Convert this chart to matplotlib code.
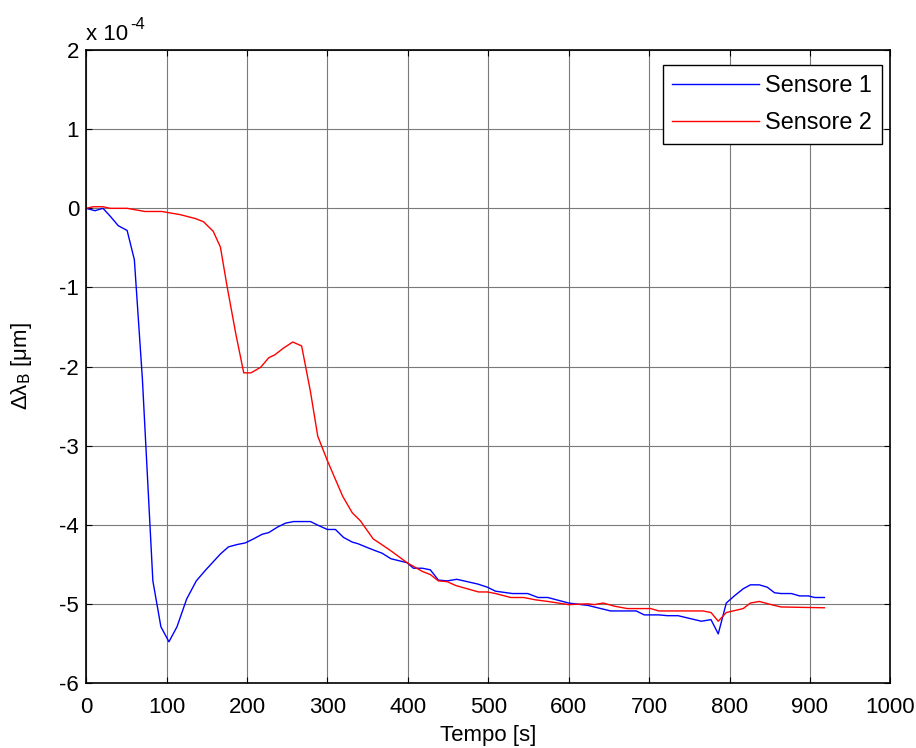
import matplotlib
matplotlib.use('Agg')
import matplotlib.pyplot as plt

# time [s] and wavelength shift (units of 1e-4 um)
t1 = [0, 11, 21, 30, 40, 51, 60, 70, 83, 93, 103, 113, 125, 137, 148, 167, 177, 188, 198,
      208, 219, 227, 238, 248, 258, 279, 289, 300, 310, 320, 331, 338, 350, 360, 368, 379,
      399, 407, 418, 428, 438, 449, 461, 474, 487, 499, 509, 530, 549, 562, 574, 600, 624,
      652, 684, 694, 712, 723, 736, 765, 777, 786, 796, 806, 817, 826, 837, 847, 856, 864,
      877, 887, 898, 906, 918]
s1 = [0, -0.03, 0, -0.10, -0.22, -0.28, -0.65, -2.16, -4.71, -5.29, -5.48, -5.29, -4.94,
      -4.71, -4.58, -4.37, -4.28, -4.25, -4.23, -4.18, -4.12, -4.10, -4.03, -3.98, -3.96,
      -3.96, -4.01, -4.06, -4.06, -4.16, -4.22, -4.24, -4.29, -4.33, -4.36, -4.43, -4.48,
      -4.55, -4.55, -4.57, -4.70, -4.71, -4.69, -4.72, -4.75, -4.79, -4.84, -4.87, -4.87,
      -4.92, -4.92, -4.99, -5.02, -5.09, -5.09, -5.14, -5.14, -5.15, -5.15, -5.22, -5.20,
      -5.38, -4.99, -4.90, -4.81, -4.76, -4.76, -4.79, -4.86, -4.87, -4.87, -4.90, -4.90,
      -4.92, -4.92]

t2 = [0, 9, 21, 30, 51, 73, 94, 117, 136, 146, 158, 167, 175, 186, 196, 205, 217, 227,
      235, 245, 257, 268, 279, 288, 300, 319, 331, 341, 357, 366, 379, 399, 418, 428, 438,
      449, 460, 474, 488, 499, 509, 528, 544, 559, 574, 600, 624, 632, 643, 657, 673, 702,
      712, 767, 777, 786, 796, 817, 826, 837, 848, 864, 918]
s2 = [0, 0.02, 0.02, 0, 0, -0.04, -0.04, -0.08, -0.13, -0.17, -0.29, -0.49, -0.97, -1.58,
      -2.08, -2.08, -2.01, -1.89, -1.85, -1.77, -1.69, -1.74, -2.32, -2.88, -3.19, -3.64,
      -3.85, -3.95, -4.18, -4.24, -4.33, -4.48, -4.59, -4.63, -4.71, -4.72, -4.77, -4.81,
      -4.85, -4.85, -4.87, -4.92, -4.92, -4.95, -4.97, -5.01, -5.00, -5.01, -4.99, -5.03,
      -5.06, -5.06, -5.09, -5.09, -5.11, -5.22, -5.11, -5.06, -4.99, -4.97, -5.00, -5.04,
      -5.05]

plt.rcParams['font.family'] = ['Liberation Sans', 'DejaVu Sans']
plt.rcParams['axes.unicode_minus'] = False
plt.rcParams['font.size'] = 16

fig = plt.figure(figsize=(9.16, 7.48), dpi=100)
ax = fig.add_axes([0.094, 0.087, 0.878, 0.846])

ax.plot(t1, s1, color='#0000ff', lw=1, label='Sensore 1')
ax.plot(t2, s2, color='#ff0000', lw=1, label='Sensore 2')

ax.set_xlim(0, 1000)
ax.set_ylim(-6, 2)
ax.set_xticks(range(0, 1001, 100))
ax.set_yticks(range(-6, 3))
ax.grid(True, color='#7a7a7a', lw=0.8)
ax.tick_params(direction='in', length=4, top=True, right=True, colors='black')
ax.tick_params(axis='x', pad=10)
ax.tick_params(axis='y', pad=5)
for sp in ax.spines.values():
    sp.set_linewidth(1.2)

ax.set_xlabel('Tempo [s]', labelpad=5.5)
ax.set_ylabel('Δλ$_\\mathrm{B}$ [μm]', labelpad=18)
# MATLAB style exponent above the y axis
ax.annotate('x 10', xy=(0, 1), xycoords='axes fraction', xytext=(0, 3.5),
            textcoords='offset points', ha='left', va='bottom')
ax.annotate('-4', xy=(0, 1), xycoords='axes fraction', xytext=(32, 13),
            textcoords='offset points', ha='left', va='bottom', fontsize=12)

leg = ax.legend(loc='upper right', bbox_to_anchor=(0.989, 0.977), fancybox=False,
                edgecolor='black', framealpha=1, handlelength=3.75, borderpad=0.4,
                labelspacing=0.62, handletextpad=0.25, borderaxespad=0,
                prop={'size': 16.8})
leg.get_frame().set_linewidth(1)

fig.savefig('out.png', dpi=100)
